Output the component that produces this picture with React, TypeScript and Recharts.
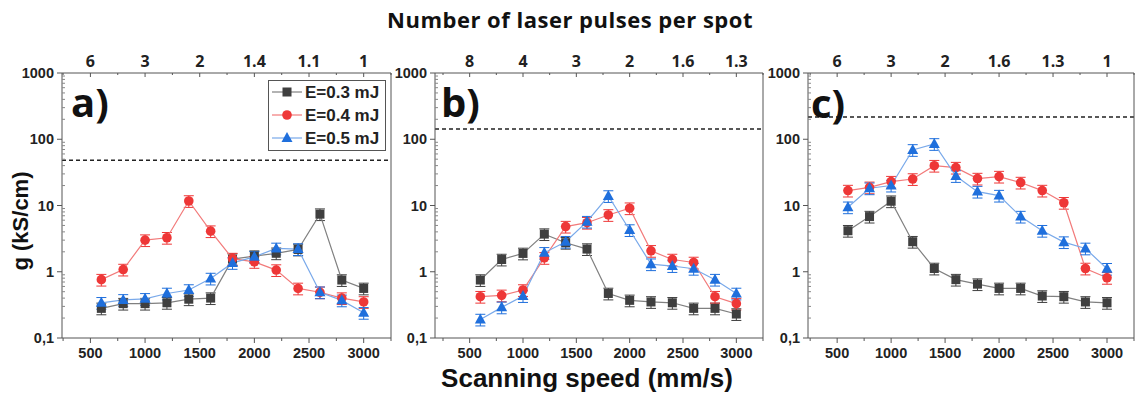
import React from 'react';
import { LineChart, Line, XAxis, YAxis, ReferenceLine, ErrorBar, Legend } from 'recharts';

// scanning speed (mm/s) for every measured point
const speeds = [600, 800, 1000, 1200, 1400, 1600, 1800, 2000, 2200, 2400, 2600, 2800, 3000];

const seriesNames = ['E=0.3 mJ', 'E=0.4 mJ', 'E=0.5 mJ'];

// panel a)
const a03 = [0.28, 0.33, 0.33, 0.34, 0.385, 0.4, 1.55, 1.72, 1.9, 2.17, 7.4, 0.75, 0.56];
const a04 = [0.76, 1.08, 3.0, 3.26, 11.7, 4.1, 1.58, 1.41, 1.06, 0.56, 0.49, 0.4, 0.35];
const a05 = [0.34, 0.376, 0.39, 0.47, 0.53, 0.79, 1.36, 1.68, 2.25, 2.2, 0.49, 0.37, 0.24];
// panel b)
const b03 = [0.75, 1.53, 1.89, 3.7, 2.74, 2.2, 0.47, 0.37, 0.35, 0.34, 0.28, 0.28, 0.23];
const b04 = [0.42, 0.44, 0.53, 1.62, 4.8, 5.5, 7.2, 9.1, 2.07, 1.53, 1.38, 0.42, 0.33];
const b05 = [0.19, 0.29, 0.43, 1.93, 2.84, 5.7, 13.9, 4.26, 1.3, 1.22, 1.11, 0.76, 0.47];
// panel c)
const c03 = [4.16, 6.8, 11.6, 2.84, 1.12, 0.76, 0.65, 0.56, 0.56, 0.43, 0.42, 0.35, 0.34];
const c04 = [16.8, 18.8, 22.9, 25.1, 39.9, 37.3, 25.5, 27.3, 22.2, 16.8, 11.0, 1.12, 0.81];
const c05 = [9.4, 18.2, 20, 69, 85, 27.9, 16.2, 14.1, 6.8, 4.16, 2.8, 2.25, 1.11];

// dashed threshold line of each panel
const aRef = 48;
const bRef = 143;
const cRef = 216;

// error bars look like roughly +-20 %
const errFrac = 0.2;

// top axis: number of laser pulses per spot
const aTopLabels = ['6', '3', '2', '1.4', '1.1', '1'];
const bTopLabels = ['8', '4', '3', '2', '1.6', '1.3'];
const cTopLabels = ['6', '3', '2', '1.6', '1.3', '1'];

const xMajor = [500, 1000, 1500, 2000, 2500, 3000];
const xTicks = [250, 500, 750, 1000, 1250, 1500, 1750, 2000, 2250, 2500, 2750, 3000, 3250];
const yMajor = [0.1, 1, 10, 100, 1000];
const yMinor = [
  0.2, 0.3, 0.4, 0.5, 0.6, 0.7, 0.8, 0.9,
  2, 3, 4, 5, 6, 7, 8, 9,
  20, 30, 40, 50, 60, 70, 80, 90,
  200, 300, 400, 500, 600, 700, 800, 900,
];

const colors = {
  m03: '#3f3f3f', l03: '#808080',
  m04: '#ee3737', l04: '#f27a7a',
  m05: '#1f6fdc', l05: '#79a9ea',
};

const arial = '"Liberation Sans", Arial, sans-serif';
const calibri = '"Open Sans", "Noto Sans", sans-serif';
const axisColor = '#555';
const PLOT_TOP = 73;
const CHART_H = 394;

const fmtY = (v: number) => (v === 0.1 ? '0,1' : String(v));

const LeftTick = (props: any) => {
  const { x, y, payload } = props;
  const v = payload.value;
  if (yMajor.includes(v)) {
    return (
      <g>
        <line x1={x - 5} x2={x} y1={y} y2={y} stroke={axisColor} />
        <text x={x - 8} y={y} dy="0.36em" textAnchor="end" fontFamily={arial} fontWeight="bold" fontSize={14.5} fill="#222">
          {fmtY(v)}
        </text>
      </g>
    );
  }
  return <line x1={x} x2={x + 3} y1={y} y2={y} stroke="#888" />;
};

// bottom axis tick also draws the matching top-axis tick (pulses per spot)
const makeBottomTick = (topLabels: string[]) => (props: any) => {
  const { x, y, payload } = props;
  const i = xMajor.indexOf(payload.value);
  if (i >= 0) {
    return (
      <g>
        <line x1={x} x2={x} y1={y} y2={y + 5} stroke={axisColor} />
        <text x={x} y={y + 20} textAnchor="middle" fontFamily={arial} fontWeight="bold" fontSize={14.5} fill="#222">
          {payload.value}
        </text>
        <line x1={x} x2={x} y1={PLOT_TOP} y2={PLOT_TOP + 4} stroke={axisColor} />
        <text x={x} y={PLOT_TOP - 6} textAnchor="middle" fontFamily={calibri} fontWeight="bold" fontSize={16} fill="#222">
          {topLabels[i]}
        </text>
      </g>
    );
  }
  return (
    <g>
      <line x1={x} x2={x} y1={y} y2={y + 3} stroke={axisColor} />
      <line x1={x} x2={x} y1={PLOT_TOP} y2={PLOT_TOP + 2} stroke={axisColor} />
    </g>
  );
};

const Marker = ({ kind, cx, cy, fill }: { kind: string; cx: number; cy: number; fill: string }) => {
  if (kind === 'square') return <rect x={cx - 4.5} y={cy - 4.5} width={9} height={9} fill={fill} />;
  if (kind === 'circle') return <circle cx={cx} cy={cy} r={4.8} fill={fill} />;
  return <polygon points={`${cx},${cy - 6} ${cx - 5.5},${cy + 4} ${cx + 5.5},${cy + 4}`} fill={fill} />;
};

const dotFor = (kind: string, fill: string) => (p: any) => {
  if (p.cx == null || p.cy == null) return <g key={p.index} />;
  return (
    <g key={p.index}>
      <Marker kind={kind} cx={p.cx} cy={p.cy} fill={fill} />
    </g>
  );
};

const LegendBox = () => {
  const kinds = ['square', 'circle', 'triangle'];
  const marks = [colors.m03, colors.m04, colors.m05];
  const lines = [colors.l03, colors.l04, colors.l05];
  return (
    <svg width={118} height={71} style={{ display: 'block' }}>
      <rect x={0.5} y={0.5} width={117} height={70} fill="#fff" stroke={axisColor} />
      {seriesNames.map((name, i) => {
        const cy = 12 + i * 23;
        return (
          <g key={name}>
            <line x1={4} x2={34} y1={cy} y2={cy} stroke={lines[i]} strokeWidth={1.2} />
            <Marker kind={kinds[i]} cx={19} cy={cy} fill={marks[i]} />
            <text x={37} y={cy + 6} fontFamily={arial} fontWeight="bold" fontSize={17} fill="#222">
              {name}
            </text>
          </g>
        );
      })}
    </svg>
  );
};

type PanelProps = {
  left: number;
  width: number;
  axisWidth: number;
  domain: [number, number];
  s03: number[];
  s04: number[];
  s05: number[];
  refValue: number;
  topLabels: string[];
  legend?: boolean;
};

const Panel = ({ left, width, axisWidth, domain, s03, s04, s05, refValue, topLabels, legend }: PanelProps) => {
  const data = speeds.map((x, i) => ({
    x,
    s03: s03[i],
    s04: s04[i],
    s05: s05[i],
    e03: s03[i] * errFrac,
    e04: s04[i] * errFrac,
    e05: s05[i] * errFrac,
  }));
  const ticks = xTicks.filter((t) => t >= domain[0] && t <= domain[1]);

  return (
    <div style={{ position: 'absolute', left, top: 0 }}>
      <LineChart width={width} height={CHART_H} data={data} margin={{ top: 0, right: 0, bottom: 0, left: 0 }}>
        <XAxis
          xAxisId="b"
          dataKey="x"
          type="number"
          domain={domain}
          allowDataOverflow
          ticks={ticks}
          interval={0}
          height={56}
          tickSize={0}
          tickMargin={0}
          tickLine={false}
          axisLine={{ stroke: axisColor }}
          tick={makeBottomTick(topLabels)}
        />
        <XAxis
          xAxisId="t"
          orientation="top"
          type="number"
          domain={domain}
          allowDataOverflow
          height={PLOT_TOP}
          tick={false}
          tickLine={false}
          axisLine={{ stroke: axisColor }}
        />
        <YAxis
          yAxisId="l"
          type="number"
          scale="log"
          domain={[0.1, 1000]}
          allowDataOverflow
          ticks={[...yMajor, ...yMinor]}
          interval={0}
          width={axisWidth}
          tickSize={0}
          tickMargin={0}
          tickLine={false}
          axisLine={{ stroke: axisColor }}
          tick={LeftTick}
        />
        <YAxis
          yAxisId="r"
          orientation="right"
          type="number"
          scale="log"
          domain={[0.1, 1000]}
          allowDataOverflow
          width={1}
          tick={false}
          tickLine={false}
          axisLine={{ stroke: axisColor }}
        />
        <ReferenceLine xAxisId="b" yAxisId="l" y={refValue} stroke="#222" strokeWidth={1.5} strokeDasharray="4 3" />
        <Line
          xAxisId="b"
          yAxisId="l"
          type="linear"
          dataKey="s03"
          name={seriesNames[0]}
          stroke={colors.l03}
          strokeWidth={1.2}
          dot={dotFor('square', colors.m03)}
          activeDot={false}
          isAnimationActive={false}
        >
          <ErrorBar dataKey="e03" direction="y" width={5} stroke={colors.m03} strokeWidth={1} isAnimationActive={false} />
        </Line>
        <Line
          xAxisId="b"
          yAxisId="l"
          type="linear"
          dataKey="s04"
          name={seriesNames[1]}
          stroke={colors.l04}
          strokeWidth={1.2}
          dot={dotFor('circle', colors.m04)}
          activeDot={false}
          isAnimationActive={false}
        >
          <ErrorBar dataKey="e04" direction="y" width={5} stroke={colors.m04} strokeWidth={1} isAnimationActive={false} />
        </Line>
        <Line
          xAxisId="b"
          yAxisId="l"
          type="linear"
          dataKey="s05"
          name={seriesNames[2]}
          stroke={colors.l05}
          strokeWidth={1.2}
          dot={dotFor('triangle', colors.m05)}
          activeDot={false}
          isAnimationActive={false}
        >
          <ErrorBar dataKey="e05" direction="y" width={5} stroke={colors.m05} strokeWidth={1} isAnimationActive={false} />
        </Line>
        {legend && (
          <Legend
            layout="horizontal"
            verticalAlign="middle"
            align="center"
            content={<LegendBox />}
            wrapperStyle={{ left: 268, top: 80, width: 118, height: 71 }}
          />
        )}
      </LineChart>
    </div>
  );
};

export default function App() {
  return (
    <div style={{ position: 'absolute', left: 0, top: 0, width: 1136, height: 394, background: '#fff', overflow: 'hidden' }}>
      <Panel left={0} width={392} axisWidth={62} domain={[240, 3250]} s03={a03} s04={a04} s05={a05} refValue={aRef} topLabels={aTopLabels} legend />
      <Panel left={392} width={372} axisWidth={43} domain={[175, 3250]} s03={b03} s04={b04} s05={b05} refValue={bRef} topLabels={bTopLabels} />
      <Panel left={764} width={371} axisWidth={44} domain={[230, 3250]} s03={c03} s04={c04} s05={c05} refValue={cRef} topLabels={cTopLabels} />
      <svg width={1136} height={394} style={{ position: 'absolute', left: 0, top: 0, pointerEvents: 'none' }}>
        <text x={570} y={28} textAnchor="middle" fontFamily={calibri} fontWeight="bold" fontSize={22} letterSpacing={0.5} fill="#111">
          Number of laser pulses per spot
        </text>
        <text x={587} y={387} textAnchor="middle" fontFamily={arial} fontWeight="bold" fontSize={26} fill="#111">
          Scanning speed (mm/s)
        </text>
        <text transform="translate(28, 221) rotate(-90)" textAnchor="middle" fontFamily={arial} fontWeight="bold" fontSize={22} fill="#111">
          g (kS/cm)
        </text>
        <text x={71} y={117} fontFamily='"Open Sans", sans-serif' fontWeight="bold" fontSize={40} fill="#111">a)</text>
        <text x={441} y={117} fontFamily='"Open Sans", sans-serif' fontWeight="bold" fontSize={40} fill="#111">b)</text>
        <text x={811} y={118} fontFamily='"Open Sans", sans-serif' fontWeight="bold" fontSize={40} fill="#111">c)</text>
      </svg>
    </div>
  );
}
